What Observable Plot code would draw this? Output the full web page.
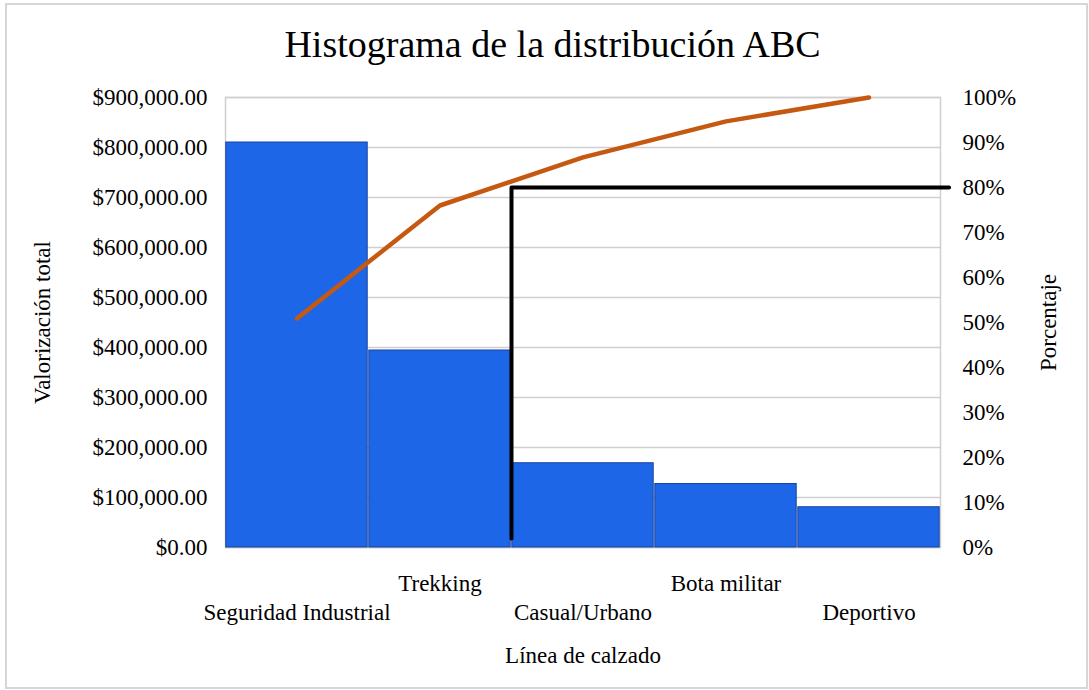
<!DOCTYPE html>
<html><head><meta charset="utf-8">
<script src="https://cdn.jsdelivr.net/npm/d3@7"></script>
<script src="https://cdn.jsdelivr.net/npm/@observablehq/plot@0.6"></script>
<style>
body{margin:0;background:#fff;font-family:"Liberation Serif","Times New Roman",serif;}
#wrap{position:relative;width:1089px;height:690px;overflow:hidden;background:#fff;}
#border{position:absolute;left:5px;top:3px;right:1px;bottom:1px;border:2px solid #d6d6d6;box-sizing:border-box;pointer-events:none;}
#title{height:75px;box-sizing:border-box;padding-top:25px;padding-left:16px;font-size:38px;line-height:1;text-align:center;color:#000;white-space:nowrap;}
svg{display:block;}
</style>
</head><body>
<div id="wrap"><div id="title">Histograma de la distribución ABC</div><div id="chart"></div><div id="border"></div></div>
<script>
const categories = ["Seguridad Industrial", "Trekking", "Casual/Urbano", "Bota militar", "Deportivo"];
const valores = [810000, 394000, 168500, 127000, 80500];
const porcentajeAcumulado = [50.9, 76.0, 86.7, 94.7, 100];
const leftTicks = [0, 100000, 200000, 300000, 400000, 500000, 600000, 700000, 800000, 900000];
const rightTicks = [0, 10, 20, 30, 40, 50, 60, 70, 80, 90, 100];
// ABC cut line (after the 2nd category, at 80%)
const corteCategoria = [2, 2, 5.06];
const cortePorcentaje = [2, 80, 80];

const PCT = 900000 / 100; // right axis (0–100%) onto left axis (0–900,000)
const rows = categories.map((c, i) => ({c, i, v: valores[i], p: porcentajeAcumulado[i]}));
const corte = corteCategoria.map((x, k) => ({x, p: cortePorcentaje[k]}));
const money = d3.format(",.2f");

const chart = Plot.plot({
  width: 1089, height: 615,
  marginTop: 22, marginBottom: 143, marginLeft: 225, marginRight: 149,
  style: {fontFamily: "'Liberation Serif', 'Times New Roman', serif", fontSize: "23px", color: "#000", background: "transparent", overflow: "visible"},
  x: {type: "linear", domain: [0, categories.length], axis: null},
  y: {domain: [0, 900000], axis: null},
  marks: [
    Plot.gridY(leftTicks, {stroke: "#cfcfcf", strokeOpacity: 1, strokeWidth: 1.5}),
    Plot.frame({stroke: "#cfcfcf", strokeWidth: 1.5}),
    Plot.rectY(rows, {x1: d => d.i, x2: d => d.i + 1, y: "v", fill: "#1e66e8", stroke: "#17439f", strokeWidth: 1, insetLeft: 0.8, insetRight: 0.8}),
    Plot.line(rows, {x: d => d.i + 0.5, y: d => d.p * PCT, stroke: "#c65911", strokeWidth: 4.5, strokeLinecap: "round", strokeLinejoin: "round"}),
    Plot.line(corte, {x: "x", y: d => d.p * PCT, stroke: "#000", strokeWidth: 4}),
    Plot.axisY(leftTicks, {anchor: "left", tickSize: 0, tickPadding: 18, tickFormat: d => "$" + money(d), label: null}),
    Plot.axisY(rightTicks.map(p => p * PCT), {anchor: "right", tickSize: 0, tickPadding: 22, tickFormat: d => Math.round(d / PCT) + "%", label: null}),
    Plot.text(rows.filter(d => d.i % 2 === 1), {x: d => d.i + 0.5, text: "c", frameAnchor: "bottom", dy: 43}),
    Plot.text(rows.filter(d => d.i % 2 === 0), {x: d => d.i + 0.5, text: "c", frameAnchor: "bottom", dy: 72}),
    Plot.text(["Línea de calzado"], {frameAnchor: "bottom", dy: 115}),
    Plot.text(["Valorización total"], {frameAnchor: "left", textAnchor: "middle", dx: -183, rotate: -90}),
    Plot.text(["Porcentaje"], {frameAnchor: "right", textAnchor: "middle", dx: 108, rotate: -90})
  ]
});
document.getElementById("chart").appendChild(chart);
</script>
</body></html>
